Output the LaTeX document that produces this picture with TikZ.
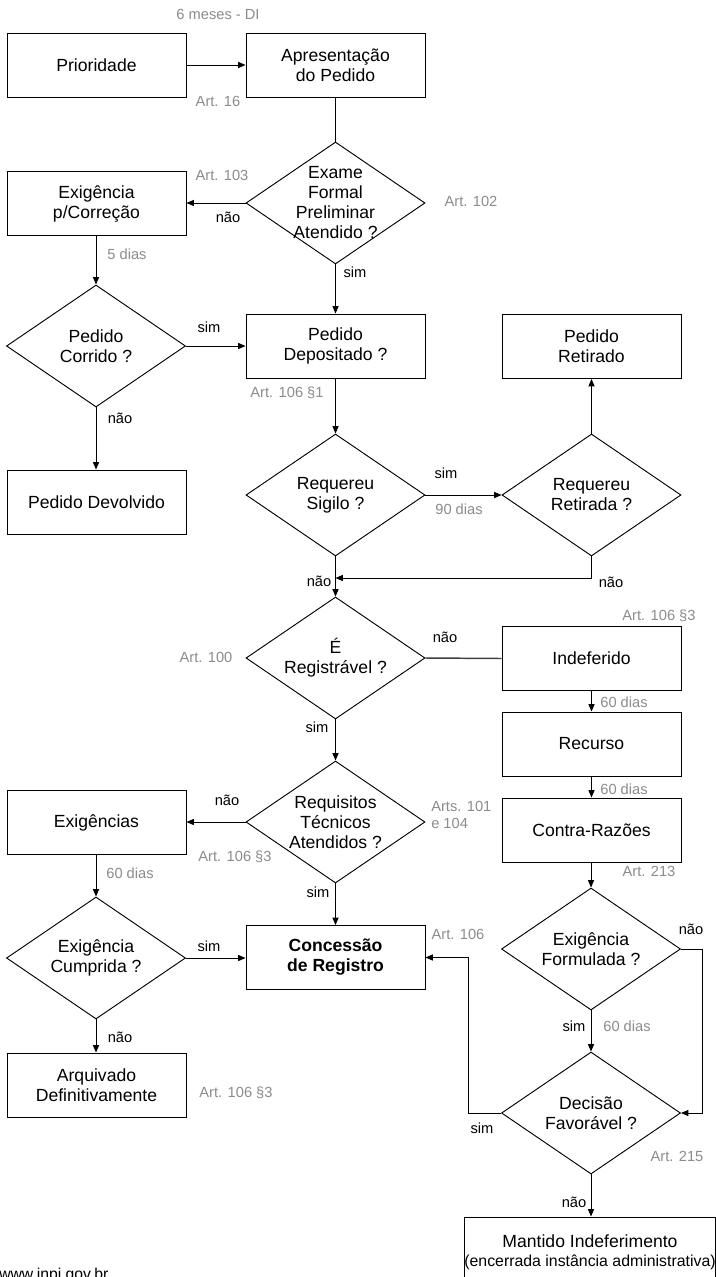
\documentclass[tikz,border=0pt]{standalone}
\usepackage{fontspec}
\setmainfont{Liberation Sans}
\usetikzlibrary{arrows.meta,shapes.geometric}
\definecolor{artgray}{HTML}{8C8C8C}
\newdimen\pxu \pxu=0.75pt
\newcommand\mainf{\fontsize{13.2}{15}\selectfont}
\newcommand\notef{\fontsize{11}{13}\selectfont}
\newcommand\subf{\fontsize{11.9}{14}\selectfont}
\tikzset{
  box/.style={draw, line width=0.7pt, minimum width=179\pxu, minimum height=64\pxu,
    inner sep=0pt, align=center, font=\mainf},
  dia/.style={draw, shape=diamond, line width=0.7pt, minimum width=179\pxu,
    minimum height=122\pxu, inner sep=0pt},
  diatext/.style={align=center, font=\mainf},
  artnote/.style={font=\notef, text=artgray, inner sep=0pt},
  anstag/.style={font=\notef, inner sep=0pt},
  arr/.style={-{Triangle[length=5.5pt,width=4.5pt]}, line width=0.7pt},
  ln/.style={line width=0.7pt},
}
\begin{document}
\begin{tikzpicture}[x=0.75pt, y=-0.75pt]
\path[fill=white, use as bounding box] (0,0) rectangle (716,1277);

% ---- process boxes ----
\node[box] (prio)   at (96.5,65)    {Prioridade};
\node[box] (apres)  at (335.5,65)   {Apresentação\\do Pedido};
\node[box] (exig1)  at (96.5,203.5) {Exigência\\p/Correção};
\node[box] (depos)  at (335.5,346)  {Pedido\\Depositado ?};
\node[box] (retir)  at (591.5,346.5){Pedido\\Retirado};
\node[box] (devol)  at (96.5,502)   {Pedido Devolvido};
\node[box] (indef)  at (591.5,658.5){Indeferido};
\node[box] (recur)  at (591.5,744)  {Recurso};
\node[box] (contra) at (591.5,830)  {Contra-Razões};
\node[box] (exigs)  at (96.5,822.5) {Exigências};
\node[box] (conc)   at (335.5,957.5){\bfseries Concessão\\\bfseries de Registro};
\node[box] (arq)    at (96.5,1085)  {Arquivado\\Definitivamente};
\node[box, minimum width=248\pxu, minimum height=70\pxu] (mant) at (590,1252)
  {Mantido Indeferimento\\[-1pt]\subf (encerrada instância administrativa)};

% ---- decisions ----
\node[dia, label={[diatext]center:{Exame\\Formal\\Preliminar\\Atendido ?}}] (d1) at (335.5,203) {};
\node[dia, label={[diatext]center:{Pedido\\Corrido ?}}] (dcorr) at (96,346) {};
\node[dia, label={[diatext]center:{Requereu\\Sigilo ?}}] (dsig) at (335.5,495) {};
\node[dia, label={[diatext]center:{Requereu\\Retirada ?}}] (dret) at (591.5,495) {};
\node[dia, label={[diatext]center:{É\\Registrável ?}}] (dreg) at (335.5,658) {};
\node[dia, label={[diatext]center:{Requisitos\\Técnicos\\Atendidos ?}}] (dreq) at (335.5,822) {};
\node[dia, label={[diatext]center:{Exigência\\Cumprida ?}}] (dcump) at (96,958) {};
\node[dia, label={[diatext]center:{Exigência\\Formulada ?}}] (dform) at (591,949) {};
\node[dia, label={[diatext]center:{Decisão\\Favorável ?}}] (ddec) at (591,1113) {};

% ---- helper points ----
\coordinate (j1) at (335.5,578);
\coordinate (rf) at (702,0);
\coordinate (lf) at (468,0);

% ---- connectors ----
\draw[arr] (prio) -- (apres);
\draw[ln]  (apres) -- (d1.north);
\draw[arr] (d1.west) -- (exig1.east |- d1.west);
\draw[arr] (exig1.south -| dcorr.north) -- (dcorr.north);
\draw[arr] (d1.south) -- (depos.north);
\draw[arr] (dcorr.east) -- (depos.west);
\draw[arr] (dcorr.south) -- (devol.north -| dcorr.south);
\draw[arr] (depos.south) -- (dsig.north);
\draw[arr] (dsig.east) -- (dret.west);
\draw[arr] (dret.north) -- (retir.south);
\draw[arr] (dret.south) -- (dret.south |- j1) -- (j1);
\draw[arr] (dsig.south) -- (dreg.north);
\draw[line width=1.1pt, color=black!75] (dreg.east) -- (indef.west);
\draw[arr] (indef) -- (recur);
\draw[arr] (recur) -- (contra);
\draw[arr] (contra.south -| dform.north) -- (dform.north);
\draw[arr] (dreg.south) -- (dreq.north);
\draw[arr] (dreq.west) -- (exigs.east |- dreq.west);
\draw[arr] (exigs.south -| dcump.north) -- (dcump.north);
\draw[arr] (dreq.south) -- (conc.north);
\draw[arr] (dcump.east) -- (conc.west |- dcump.east);
\draw[arr] (dcump.south) -- (arq.north -| dcump.south);
\draw[arr] (dform.east) -- (dform.east -| rf) -- (ddec.east -| rf) -- (ddec.east);
\draw[arr] (dform.south) -- (ddec.north);
\draw[arr] (ddec.west) -- (ddec.west -| lf) -- (conc.east -| lf) -- (conc.east);
\draw[arr] (ddec.south) -- (mant.north -| ddec.south);

% ---- answers on connectors ----
\node[anstag] (t1)  at (228,217)  {não};
\node[anstag] (t2)  at (355,272)  {sim};
\node[anstag] (t3)  at (209,327)  {sim};
\node[anstag] (t4)  at (120,418)  {não};
\node[anstag] (t5)  at (446,473)  {sim};
\node[anstag] (t6)  at (611,582)  {não};
\node[anstag] (t7)  at (319,581)  {não};
\node[anstag] (t8)  at (445,637)  {não};
\node[anstag] (t9)  at (317,727)  {sim};
\node[anstag] (t10) at (227,800)  {não};
\node[anstag] (t11) at (318,892)  {sim};
\node[anstag] (t12) at (209,946)  {sim};
\node[anstag] (t13) at (120,1037) {não};
\node[anstag] (t14) at (691,929)  {não};
\node[anstag] (t15) at (574,1026) {sim};
\node[anstag] (t16) at (482,1128) {sim};
\node[anstag] (t17) at (574,1202) {não};

% ---- legal references and deadlines ----
\node[artnote] (n1)  at (218,14)   {6 meses - DI};
\node[artnote] (n2)  at (218,101)  {Art. 16};
\node[artnote] (n3)  at (471,201)  {Art. 102};
\node[artnote] (n4)  at (222,175)  {Art. 103};
\node[artnote] (n5)  at (127,254)  {5 dias};
\node[artnote] (n6)  at (287,393)  {Art. 106 §1};
\node[artnote] (n7)  at (459,509)  {90 dias};
\node[artnote] (n8)  at (206,657)  {Art. 100};
\node[artnote] (n9)  at (659,616)  {Art. 106 §3};
\node[artnote] (n10) at (624,702)  {60 dias};
\node[artnote] (n11) at (624,789)  {60 dias};
\node[artnote, align=left, anchor=west] (n12) at (431,815) {Arts. 101\\e 104};
\node[artnote] (n13) at (235,857)  {Art. 106 §3};
\node[artnote] (n14) at (649,871)  {Art. 213};
\node[artnote] (n15) at (130,873)  {60 dias};
\node[artnote] (n16) at (458,934)  {Art. 106};
\node[artnote] (n17) at (236,1093) {Art. 106 §3};
\node[artnote] (n18) at (627,1026) {60 dias};
\node[artnote] (n19) at (677,1156) {Art. 215};

% ---- source line, running off the lower edge ----
\node[anstag, font=\fontsize{11.8}{14}\selectfont, anchor=base west] (src) at (-1,1279) {www.inpi.gov.br};
\end{tikzpicture}
\end{document}
